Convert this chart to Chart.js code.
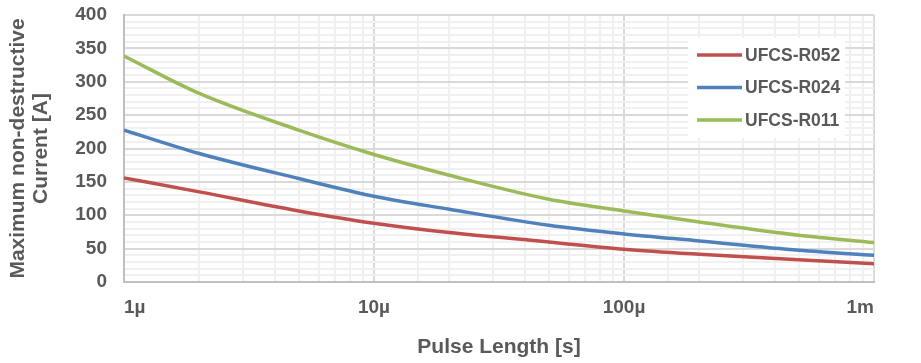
<!DOCTYPE html>
<html>
<head>
<meta charset="utf-8">
<script src="https://cdn.jsdelivr.net/npm/chart.js@4/dist/chart.umd.min.js"></script>
<style>
  html, body { margin: 0; padding: 0; background: #ffffff; }
  #wrap { width: 921px; height: 363px; position: relative; }
</style>
</head>
<body>
<div id="wrap"><canvas id="c" width="921" height="363"></canvas></div>
<script>
// ---- data (pulse length in microseconds) ----
const pulseLengthUs = [1, 2, 5, 10, 20, 50, 100, 200, 500, 1000];
const seriesNames = ['UFCS-R052', 'UFCS-R024', 'UFCS-R011'];
const currentR052 = [156, 135, 106.5, 88, 74, 60, 49, 41.5, 33.5, 27.5];
const currentR024 = [227.5, 192.5, 155, 128.5, 109, 85, 72, 61.5, 47.5, 40];
const currentR011 = [338.5, 282.5, 227.5, 191, 160, 124, 106.5, 90, 70, 59];
const xTickValues = [1, 10, 100, 1000];
const xTickLabels = ['1µ', '10µ', '100µ', '1m'];
const yTickLabelStep = 50;

const seriesColors = ['#C0504D', '#4F81BD', '#9BBB59'];
const FONT = '"Liberation Sans", Arial, sans-serif';
const TEXT = '#595959';

function mkData(vals) { return pulseLengthUs.map((x, i) => ({ x: x, y: vals[i] })); }

const legendPlugin = {
  id: 'insideLegend',
  afterDraw(chart) {
    const ctx = chart.ctx;
    const bx = 688, by = 38, bw = 157, bh = 100;
    ctx.save();
    ctx.fillStyle = '#ffffff';
    ctx.fillRect(bx, by, bw, bh);
    ctx.font = 'bold 17.5px ' + FONT;
    ctx.textBaseline = 'middle';
    ctx.textAlign = 'left';
    chart.data.datasets.forEach((ds, i) => {
      const y = 55 + i * 32.5;
      ctx.strokeStyle = ds.borderColor;
      ctx.lineWidth = 3.5;
      ctx.beginPath();
      ctx.moveTo(697, y);
      ctx.lineTo(742, y);
      ctx.stroke();
      ctx.fillStyle = TEXT;
      ctx.fillText(ds.label, 745, y + 1);
    });
    ctx.restore();
  }
};

new Chart(document.getElementById('c'), {
  type: 'line',
  data: {
    datasets: [
      { label: seriesNames[0], data: mkData(currentR052), borderColor: seriesColors[0] },
      { label: seriesNames[1], data: mkData(currentR024), borderColor: seriesColors[1] },
      { label: seriesNames[2], data: mkData(currentR011), borderColor: seriesColors[2] }
    ].map(d => Object.assign(d, { borderWidth: 3.5, pointRadius: 0, cubicInterpolationMode: 'monotone', fill: false }))
  },
  options: {
    responsive: false,
    animation: false,
    devicePixelRatio: 1,
    layout: { padding: { left: 0, right: 47, top: 15, bottom: 0 } },
    plugins: { legend: { display: false }, tooltip: { enabled: false } },
    scales: {
      x: {
        type: 'logarithmic',
        min: 1, max: 1000,
        afterFit(scale) { scale.height = 81; scale.paddingLeft = 0; scale.paddingRight = 0; },
        border: { color: '#BFBFBF', width: 2 },
        grid: {
          drawTicks: false,
          lineWidth: 2,
          color(ctx) {
            const v = ctx.tick ? ctx.tick.value : 0;
            const l = Math.log10(v);
            return Math.abs(l - Math.round(l)) < 1e-9 ? '#D9D9D9' : '#F0F0F0';
          }
        },
        ticks: {
          autoSkip: false,
          maxRotation: 0,
          align: 'inner',
          padding: 14,
          color: TEXT,
          font: { family: FONT, size: 19, weight: 'bold' },
          callback(v) {
            const i = xTickValues.findIndex(t => Math.abs(t - v) < 1e-9);
            return i >= 0 ? xTickLabels[i] : '';
          }
        },
        title: {
          display: true,
          text: 'Pulse Length [s]',
          color: TEXT,
          font: { family: FONT, size: 21, weight: 'bold', lineHeight: 1.1 },
          padding: { top: 0, bottom: 4 }
        }
      },
      y: {
        min: 0, max: 400,
        afterFit(scale) { scale.width = 124; scale.paddingTop = 0; scale.paddingBottom = 0; },
        border: { color: '#BFBFBF', width: 2 },
        grid: {
          drawTicks: false,
          lineWidth: 2,
          color(ctx) {
            const v = ctx.tick ? ctx.tick.value : 0;
            return v % yTickLabelStep === 0 ? '#D9D9D9' : '#F0F0F0';
          }
        },
        ticks: {
          stepSize: 10,
          autoSkip: false,
          padding: 17,
          color: TEXT,
          font: { family: FONT, size: 19, weight: 'bold' },
          callback(v) { return v % yTickLabelStep === 0 ? String(v) : ''; }
        },
        title: {
          display: true,
          text: ['Maximum non-destructive', 'Current [A]'],
          color: TEXT,
          font: { family: FONT, size: 21, weight: 'bold', lineHeight: 1.1 },
          padding: { top: 7, bottom: 0 }
        }
      }
    }
  },
  plugins: [legendPlugin]
});
</script>
</body>
</html>
